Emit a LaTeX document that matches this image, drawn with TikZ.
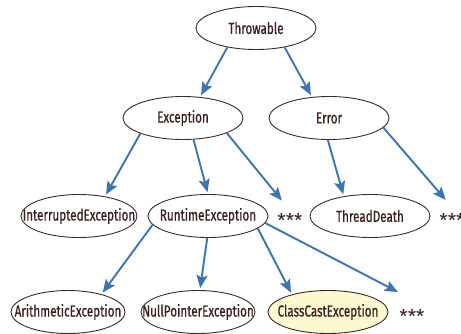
\documentclass[tikz,border=0pt]{standalone}
\usepackage{fontspec}
\setmainfont{Fira Sans}[FakeStretch=0.73,FakeBold=0.6]
\newfontfamily\starfont{Fira Sans}
\usetikzlibrary{arrows.meta,shapes.geometric}
\definecolor{arrowblue}{HTML}{3B74B0}
\definecolor{edgebrown}{HTML}{3A2A28}
\definecolor{textbrown}{HTML}{3A1E1E}
\definecolor{hiyellow}{HTML}{FCF8CF}
\newcommand{\clname}[1]{\makebox[0pt]{#1}}
\tikzset{
  cls/.style={ellipse, draw=edgebrown, line width=0.9pt, minimum width=120pt, minimum height=43pt, inner sep=0pt, text=textbrown, font=\fontsize{16}{18}\selectfont},
  more/.style={circle, minimum size=38pt, inner sep=0pt, text=textbrown, font=\starfont\fontsize{19}{20}\selectfont},
  inh/.style={draw=arrowblue, line width=1.9pt, -{Stealth[length=13pt,width=11pt,inset=2.5pt]}, shorten >=2pt},
}
\begin{document}
\begin{tikzpicture}[x=1pt,y=-1pt]
\useasboundingbox (0,0) rectangle (461,333);
\node[cls] (T) at (256,28) {\clname{Throwable}};
\node[cls] (E) at (183,118) {\clname{Exception}};
\node[cls] (Er) at (329,118) {\clname{Error}};
\node[cls, minimum width=116pt] (IE) at (79,216) {\clname{InterruptedException}};
\node[cls] (RE) at (208,216) {\clname{RuntimeException}};
\node[more] (S1) at (290,220) {\raisebox{-0.35ex}{***}};
\node[cls] (TD) at (370,216) {\clname{ThreadDeath}};
\node[more] (S2) at (452,220) {\raisebox{-0.35ex}{***}};
\node[cls, minimum width=114pt] (AE) at (68,312) {\clname{ArithmeticException}};
\node[cls, minimum width=114pt] (NP) at (198,312) {\clname{NullPointerException}};
\node[cls, fill=hiyellow] (CC) at (328,312) {\clname{ClassCastException}};
\node[more, minimum size=52pt] (S3) at (412,316) {\raisebox{-0.35ex}{***}};
\draw[inh] (T.214) -- (E.51);
\draw[inh] (T.326) -- (Er.129);
\draw[inh] (E.200) -- (IE.37);
\draw[inh] (E.296) -- (RE.90);
\draw[inh] (E.341) -- (S1.111);
\draw[inh] (Er.267) -- (TD.143);
\draw[inh] (Er.350) -- (S2.105);
\draw[inh] (RE.189) -- (AE.28);
\draw[inh] (RE.268) -- (NP.85);
\draw[inh] (RE.346) -- (CC.154);
\draw[inh] (RE.353) -- (S3.118);
\end{tikzpicture}
\end{document}
